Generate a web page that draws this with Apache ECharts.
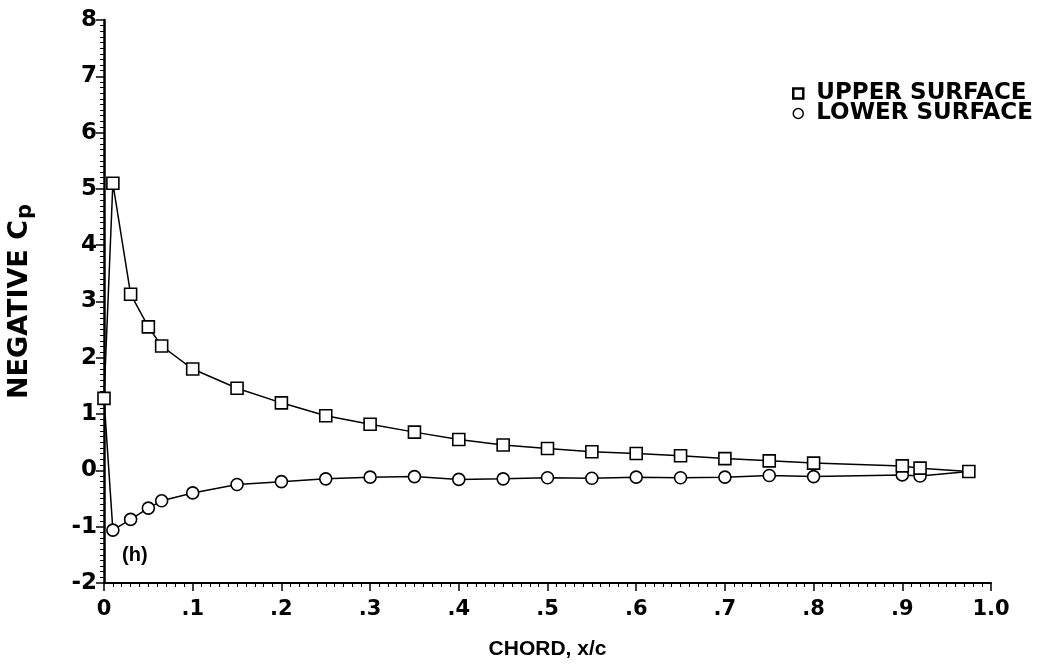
<!DOCTYPE html>
<html>
<head>
<meta charset="utf-8">
<script src="https://cdn.jsdelivr.net/npm/echarts@6/dist/echarts.min.js"></script>
<style>
  html, body { margin: 0; padding: 0; background: #fff; }
  #chart { width: 1049px; height: 672px; }
</style>
</head>
<body>
<div id="chart"></div>
<script>
// Pressure distribution over the airfoil chord (negative Cp)
const upperX  = [0, 0.01, 0.03, 0.05, 0.065, 0.1, 0.15, 0.2, 0.25, 0.3, 0.35, 0.4, 0.45, 0.5, 0.55, 0.6, 0.65, 0.7, 0.75, 0.8, 0.9, 0.92, 0.975];
const upperCp = [1.28, 5.10, 3.13, 2.55, 2.21, 1.80, 1.46, 1.20, 0.97, 0.82, 0.68, 0.55, 0.45, 0.39, 0.33, 0.30, 0.26, 0.21, 0.17, 0.13, 0.08, 0.04, -0.02];
const lowerX  = [0, 0.01, 0.03, 0.05, 0.065, 0.1, 0.15, 0.2, 0.25, 0.3, 0.35, 0.4, 0.45, 0.5, 0.55, 0.6, 0.65, 0.7, 0.75, 0.8, 0.9, 0.92, 0.975];
const lowerCp = [1.28, -1.06, -0.87, -0.67, -0.54, -0.40, -0.25, -0.20, -0.15, -0.12, -0.11, -0.16, -0.15, -0.13, -0.14, -0.12, -0.13, -0.12, -0.09, -0.11, -0.08, -0.10, -0.02];
const seriesNames = ['UPPER SURFACE', 'LOWER SURFACE'];
const xTickLabels = ['0', '.1', '.2', '.3', '.4', '.5', '.6', '.7', '.8', '.9', '1.0'];

const FONT = '"Liberation Sans", Arial, sans-serif';
const WIDE_FONT = '"DejaVu Sans", "Liberation Sans", sans-serif';

const upperData = upperX.map((x, i) => [x, upperCp[i]]);
// leading- and trailing-edge points are shared with the upper surface, so no extra marker there
const lowerData = lowerX.map((x, i) => {
  const shared = i === 0 || i === lowerX.length - 1;
  return shared ? { value: [x, lowerCp[i]], symbol: 'none' } : [x, lowerCp[i]];
});

const chart = echarts.init(document.getElementById('chart'), null, { renderer: 'canvas' });

chart.setOption({
  backgroundColor: '#fff',
  animation: false,
  grid: { left: 104, right: 58, top: 20, bottom: 89, containLabel: false, outerBoundsMode: 'none' },
  legend: {
    orient: 'vertical',
    left: 787,
    top: 77,
    itemGap: -3,
    itemWidth: 10,
    itemHeight: 10,
    textStyle: { color: '#000', fontFamily: WIDE_FONT, fontWeight: 'bold', fontSize: 23, padding: [0, 0, 0, 8] },
    data: [
      { name: seriesNames[0], icon: 'rect', itemStyle: { color: '#fff', borderColor: '#000', borderWidth: 2.5 } },
      { name: seriesNames[1], icon: 'circle', itemStyle: { color: '#fff', borderColor: '#000', borderWidth: 1.5 } }
    ]
  },
  xAxis: {
    type: 'value',
    min: 0, max: 1.0, interval: 0.1,
    name: 'CHORD, x/c',
    nameLocation: 'middle',
    nameGap: 56,
    nameTextStyle: { color: '#000', fontFamily: FONT, fontWeight: 'bold', fontSize: 21 },
    axisLine: { onZero: false, lineStyle: { color: '#000', width: 2 } },
    axisTick: { inside: false, length: 8, lineStyle: { color: '#000', width: 1.5 } },
    minorTick: { show: true, splitNumber: 10, length: 4, lineStyle: { color: '#000', width: 1 } },
    splitLine: { show: false },
    axisLabel: {
      color: '#000', fontFamily: WIDE_FONT, fontWeight: 'bold', fontSize: 21,
      margin: 16,
      formatter: (v) => xTickLabels[Math.round(v * 10)]
    }
  },
  yAxis: {
    type: 'value',
    min: -2, max: 8, interval: 1,
    name: '{n|NEGATIVE C}{s|p}',
    nameLocation: 'middle',
    nameGap: 68,
    nameRotate: 90,
    nameTextStyle: {
      rich: {
        n: { color: '#000', fontFamily: WIDE_FONT, fontWeight: 'bold', fontSize: 27 },
        s: { color: '#000', fontFamily: WIDE_FONT, fontWeight: 'bold', fontSize: 21, padding: [11, 0, 0, 1] }
      }
    },
    axisLine: { onZero: false, lineStyle: { color: '#000', width: 2.5 } },
    axisTick: { inside: false, length: 8, lineStyle: { color: '#000', width: 1.5 } },
    minorTick: { show: true, splitNumber: 10, length: 4, lineStyle: { color: '#000', width: 1 } },
    splitLine: { show: false },
    axisLabel: { color: '#000', fontFamily: WIDE_FONT, fontWeight: 'bold', fontSize: 23, margin: 7 }
  },
  graphic: [
    {
      type: 'text',
      left: 122,
      top: 545,
      style: { text: '(h)', fill: '#000', font: 'bold 20px ' + FONT }
    }
  ],
  series: [
    {
      name: seriesNames[0],
      type: 'line',
      data: upperData,
      symbol: 'rect',
      symbolSize: 12,
      showAllSymbol: true,
      itemStyle: { color: '#fff', borderColor: '#000', borderWidth: 1.6 },
      lineStyle: { color: '#000', width: 1.5 },
      z: 3
    },
    {
      name: seriesNames[1],
      type: 'line',
      data: lowerData,
      symbol: 'circle',
      symbolSize: 12,
      showAllSymbol: true,
      itemStyle: { color: '#fff', borderColor: '#000', borderWidth: 1.6 },
      lineStyle: { color: '#000', width: 1.5 },
      z: 2
    }
  ]
});
</script>
</body>
</html>
